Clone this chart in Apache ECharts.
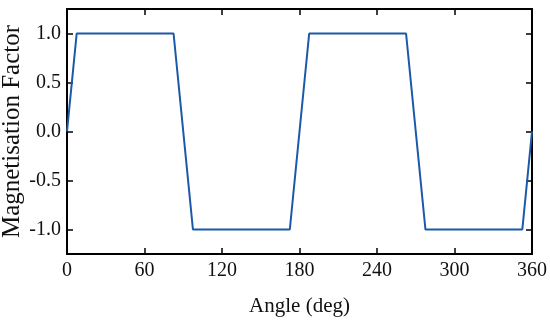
<!DOCTYPE html>
<html>
<head>
<meta charset="utf-8">
<script src="https://cdn.jsdelivr.net/npm/echarts@6/dist/echarts.min.js"></script>
<style>html,body{margin:0;padding:0;background:#fff}#c{width:550px;height:321px}</style>
</head>
<body>
<div id="c"></div>
<script>
var angles = [0, 7.5, 82.5, 97.5, 172.5, 187.5, 262.5, 277.5, 352.5, 360];
var magnetisation = [0, 1, 1, -1, -1, 1, 1, -1, -1, 0];
var yTicks = [-1, -0.5, 0, 0.5, 1];
var xTicks = [0, 60, 120, 180, 240, 300, 360];

var serif = 'Liberation Serif';
var chart = echarts.init(document.getElementById('c'), null, {renderer: 'canvas'});
var axisLineStyle = {color: '#000', width: 2};
var points = angles.map(function (a, i) { return [a, magnetisation[i]]; });

chart.setOption({
  animation: false,
  backgroundColor: '#fff',
  grid: {left: 67, right: 18, top: 9, bottom: 67, containLabel: false, outerBoundsMode: 'none'},
  xAxis: [{
    type: 'value', min: 0, max: 360, interval: 60, position: 'bottom',
    name: 'Angle (deg)', nameLocation: 'middle', nameGap: 42, nameMoveOverlap: false,
    nameTextStyle: {fontFamily: serif, fontSize: 21, color: '#111'},
    axisLine: {show: true, onZero: false, lineStyle: axisLineStyle},
    axisTick: {show: true, inside: true, length: 6, lineStyle: {color: '#000', width: 1.5}},
    axisLabel: {fontFamily: serif, fontSize: 20, color: '#111', margin: 7,
      customValues: xTicks},
    splitLine: {show: false}
  }, {
    type: 'value', min: 0, max: 360, interval: 60, position: 'top',
    axisLine: {show: true, onZero: false, lineStyle: axisLineStyle},
    axisTick: {show: true, inside: true, length: 6, lineStyle: {color: '#000', width: 1.5}},
    axisLabel: {show: false},
    splitLine: {show: false}
  }],
  yAxis: [{
    type: 'value', min: -1.25, max: 1.25, position: 'left',
    name: 'Magnetisation Factor', nameLocation: 'middle', nameGap: 42, nameMoveOverlap: false,
    nameTextStyle: {fontFamily: serif, fontSize: 25, color: '#111'},
    axisLine: {show: true, onZero: false, lineStyle: axisLineStyle},
    axisTick: {show: true, inside: true, length: 6, customValues: yTicks,
      lineStyle: {color: '#000', width: 1.5}},
    axisLabel: {fontFamily: serif, fontSize: 20, color: '#111', margin: 6,
      customValues: yTicks,
      formatter: function (v) { return v.toFixed(1); }},
    splitLine: {show: false}
  }, {
    type: 'value', min: -1.25, max: 1.25, position: 'right',
    axisLine: {show: true, onZero: false, lineStyle: axisLineStyle},
    axisTick: {show: true, inside: true, length: 6, customValues: yTicks,
      lineStyle: {color: '#000', width: 1.5}},
    axisLabel: {show: false},
    splitLine: {show: false}
  }],
  series: [{
    type: 'line', xAxisIndex: 0, yAxisIndex: 0,
    data: points, showSymbol: false, symbol: 'none',
    lineStyle: {color: '#1a58aa', width: 2},
    clip: true
  }]
});
</script>
</body>
</html>
